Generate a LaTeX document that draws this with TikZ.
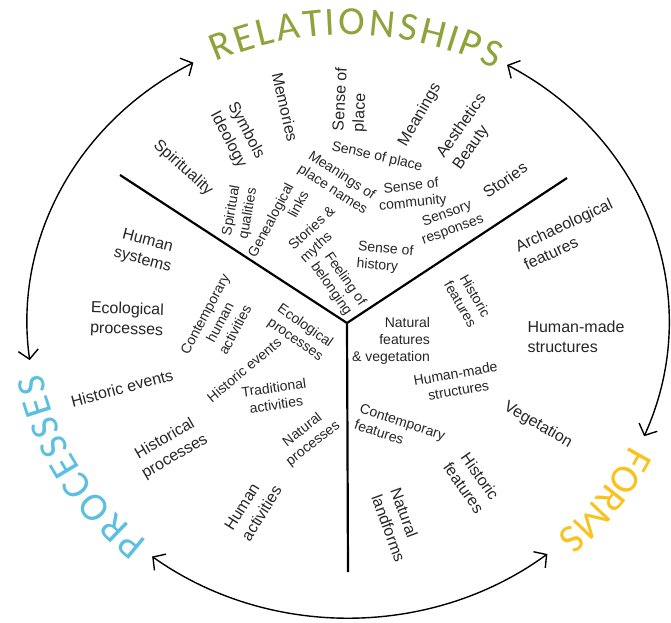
\documentclass[tikz,border=0pt]{standalone}
\usepackage{fontspec}
\setmainfont{Liberation Sans}
\newfontfamily\titlefont{Carlito}
\usetikzlibrary{arrows.meta,decorations.text}
\definecolor{relgreen}{HTML}{8FA33A}
\definecolor{procblue}{HTML}{5BC0E0}
\definecolor{formyellow}{HTML}{F7C31C}
\definecolor{txt}{HTML}{262626}
\begin{document}
\begin{tikzpicture}[x=1pt,y=1pt,
  outer/.style={font=\fontsize{16}{20}\selectfont, text=txt, align=center, inner sep=0pt},
  inner/.style={font=\fontsize{14}{17}\selectfont, text=txt, align=center, inner sep=0pt},
  ring/.style={line width=1.4pt, {Straight Barb[length=9pt,width=20pt]}-{Straight Barb[length=9pt,width=20pt]}},
  yline/.style={line width=2.2pt, line join=miter},
  titlechars/.style={font=\titlefont\fontsize{40}{40}\selectfont, transform shape, anchor=center, inner sep=0pt}
]
\useasboundingbox (0,0) rectangle (671,622);
\fill[white] (0,0) rectangle (671,622);
\coordinate (C) at (348,300);
% ring arcs
\coordinate (L1) at ([shift={(118.8:321 and 296)}]C);
\coordinate (B1) at ([shift={(232.4:321 and 296)}]C);
\coordinate (R1) at ([shift={(337.3:321 and 296)}]C);
\draw[ring] (L1) arc[start angle=118.8, end angle=187.4, x radius=321, y radius=296];
\draw[ring] (B1) arc[start angle=232.4, end angle=308.4, x radius=321, y radius=296];
\draw[ring] (R1) arc[start angle=337.3, end angle=420.3, x radius=321, y radius=296];
% titles
\path[decorate, decoration={text effects along path, text={RELATIONSHIPS},
   text effects/.cd, fit text to path, characters={titlechars, text=relgreen}}]
  ([shift={(115:324 and 300)}]C) arc[start angle=115, end angle=62, x radius=324, y radius=300];
\path[decorate, decoration={text effects along path, text={PROCESSES},
   text effects/.cd, fit text to path, characters={titlechars, text=procblue}}]
  ([shift={(230:324 and 299)}]C) arc[start angle=230, end angle=190.6, x radius=324, y radius=299];
\path[decorate, decoration={text effects along path, text={FORMS},
   text effects/.cd, fit text to path, characters={titlechars, text=formyellow}}]
  ([shift={(334.4:325 and 300)}]C) arc[start angle=334.4, end angle=312, x radius=325, y radius=300];
% Y dividers
\coordinate (J) at (347,299);
\coordinate (UL) at (120,447);
\coordinate (UR) at (567,444);
\coordinate (BT) at (348,50);
\draw[yline] (UL) -- (J) -- (UR);
\draw[yline] (J) -- (BT);
% RELATIONSHIPS sector, outer
\node[outer, rotate=-42] (spir) at (183,454) {Spirituality};
\node[outer, rotate=-62] (symb) at (237,487) {Symbols\\Ideology};
\node[outer, rotate=-77] (memo) at (285,515) {Memories};
\node[outer, rotate=87, align=left] (sop1) at (351,522) {Sense of\\place};
\node[outer, rotate=60] (mean) at (420,507) {Meanings};
\node[outer, rotate=55, align=left] (aest) at (470,490) {Aesthetics\\Beauty};
\node[outer, rotate=35] (stor) at (505,442) {Stories};
% RELATIONSHIPS sector, inner
\node[inner, rotate=80] (spq) at (240,410) {Spiritual\\qualities};
\node[inner, rotate=62, align=right] (gen) at (278,398) {Genealogical\\links};
\node[inner, rotate=-33] (mpn) at (337,439) {Meanings of\\place names};
\node[inner, rotate=-13] (sop2) at (377,465) {Sense of place};
\node[inner, rotate=6] (soc) at (412,427) {Sense of\\community};
\node[inner, rotate=20] (sens) at (450,400) {Sensory\\responses};
\node[inner, rotate=-5, align=left] (soh) at (385,364) {Sense of\\history};
\node[inner, rotate=42, align=left] (stm) at (318,387) {Stories \&\\myths};
\node[inner, rotate=-55] (fob) at (338,338) {Feeling of\\belonging};
% PROCESSES sector, outer
\node[outer, rotate=-15] (hsys) at (145,371) {Human\\systems};
\node[outer, rotate=-2] (eco1) at (127,302) {Ecological\\processes};
\node[outer, rotate=15] (hev1) at (122,234) {Historic events};
\node[outer, rotate=30] (hpro) at (170,174) {Historical\\processes};
\node[outer, rotate=58, align=left] (hact) at (253,114) {Human\\activities};
% PROCESSES sector, inner
\node[inner, rotate=62] (cha) at (220,300) {Contemporary\\human\\activities};
\node[inner, rotate=-35] (eco2) at (300,289) {Ecological\\processes};
\node[inner, rotate=40] (hev2) at (244,252) {Historic events};
\node[inner, rotate=8] (trad) at (275,226) {Traditional\\activities};
\node[inner, rotate=38] (npro) at (308,185) {Natural\\processes};
% FORMS sector, outer
\node[outer, rotate=25, align=left] (arch) at (568,388) {Archaeological\\features};
\node[outer, align=left] (hms1) at (576,285) {Human-made\\structures};
\node[outer, rotate=-30] (veg) at (538,197) {Vegetation};
\node[outer, rotate=-55] (hf1) at (472,140) {Historic\\features};
\node[outer, rotate=-70, align=left] (nland) at (398,97) {Natural\\landforms};
% FORMS sector, inner
\node[inner, align=right] (nfv) at (391,281) {Natural\\features\\\& vegetation};
\node[inner, rotate=-60] (hf2) at (468,322) {Historic\\features};
\node[inner, rotate=10] (hms2) at (457,240) {Human-made\\structures};
\node[inner, rotate=-18, align=left] (cf) at (400,192) {Contemporary\\features};
\end{tikzpicture}
\end{document}
